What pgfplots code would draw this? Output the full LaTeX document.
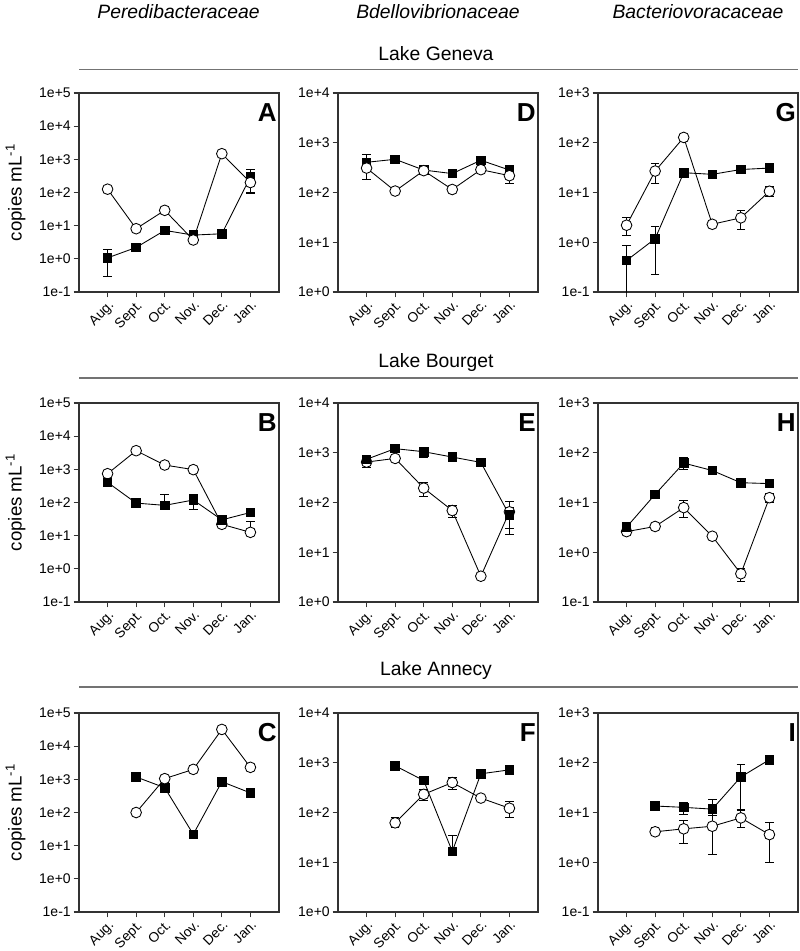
\documentclass[border=0pt]{standalone}
\usepackage{fontspec}
\setmainfont{Liberation Sans}
\usepackage{pgfplots}
\pgfplotsset{compat=1.18}
\pgfplotsset{
  mypanelstyle/.style={
    scale only axis, width=150pt, height=149.25pt,
    xmin=-1, xmax=6, xtick={0,...,5},
    xticklabels={Aug.,Sept.,Oct.,Nov.,Dec.,Jan.},
    x tick label style={rotate=45, anchor=north east, inner sep=1pt, font=\fontsize{10.3}{11}\selectfont},
    y tick label style={font=\fontsize{10.5}{11}\selectfont, inner sep=2pt},
    tick align=outside, xtick pos=bottom, ytick pos=left,
    major tick length=4pt, yminorticks=false,
    axis line style={black!80, line width=0.9pt},
    major tick style={black!80, line width=0.8pt},
  },
  myrangeA/.style={ymin=0.1, ymax=1e5, ytick={0.1,1,10,100,1000,10000,100000},
    yticklabels={1e-1,1e+0,1e+1,1e+2,1e+3,1e+4,1e+5}},
  myrangeD/.style={ymin=1, ymax=1e4, ytick={1,10,100,1000,10000},
    yticklabels={1e+0,1e+1,1e+2,1e+3,1e+4}},
  myrangeG/.style={ymin=0.1, ymax=1e3, ytick={0.1,1,10,100,1000},
    yticklabels={1e-1,1e+0,1e+1,1e+2,1e+3}},
  myylab/.style={ylabel={copies mL\textsuperscript{-1}},
    ylabel style={font=\fontsize{14}{15}\selectfont, at={([xshift=-47.5pt]rel axis cs:0,0.5)}, anchor=center}},
  mysq/.style={black, line width=0.65pt, mark=square*, mark size=3.2pt,
    mark options={fill=black, solid},
    error bars/y dir=both, error bars/y explicit,
    error bars/error bar style={line width=0.65pt, black},
    error bars/error mark options={rotate=90, mark size=3.2pt, line width=0.65pt}},
  myci/.style={black, line width=0.65pt, mark=*, mark size=4pt,
    mark options={fill=white, solid},
    error bars/y dir=both, error bars/y explicit,
    error bars/error bar style={line width=0.65pt, black},
    error bars/error mark options={rotate=90, mark size=3.2pt, line width=0.65pt}},
}
\newcommand{\plet}[1]{\node[anchor=north east, inner sep=0pt, font=\bfseries\fontsize{19.5}{20}\selectfont] at (rel axis cs:0.99,0.95) {#1};}
\begin{document}
\begin{tikzpicture}
\useasboundingbox (0,0) rectangle (600pt,-713.25pt);
% column titles
\node[font=\itshape\fontsize{14.5}{16}\selectfont] at (133.9pt,-8.5pt) {Peredibacteraceae};
\node[font=\itshape\fontsize{14.5}{16}\selectfont] at (328.5pt,-8.5pt) {Bdellovibrionaceae};
\node[font=\itshape\fontsize{14.5}{16}\selectfont] at (523.5pt,-8.5pt) {Bacteriovoracaceae};
% row titles
\node[font=\fontsize{14.5}{16}\selectfont] at (327pt,-40.5pt) {Lake Geneva};
\draw[black!55, line width=0.8pt] (59.25pt,-52pt) -- (598.5pt,-52pt);
\node[font=\fontsize{14.5}{16}\selectfont] at (327pt,-271.5pt) {Lake Bourget};
\draw[black!55, line width=0.8pt] (59.25pt,-283.5pt) -- (598.5pt,-283.5pt);
\node[font=\fontsize{14.5}{16}\selectfont] at (327pt,-502.5pt) {Lake Annecy};
\draw[black!55, line width=0.8pt] (59.25pt,-515.25pt) -- (598.5pt,-515.25pt);

% ---------- A
\begin{semilogyaxis}[mypanelstyle, myrangeA, myylab, at={(59.25pt,-69.75pt)}, anchor=north west]
\addplot[mysq] coordinates {(0,1.07) += (0,0.85) -= (0,0.77) (1,2.2) +- (0,0.3) (2,7.2) +- (0,1) (3,5.2) +- (0,0.8) (4,5.7) +- (0,0.8) (5,295) += (0,215) -= (0,195)};
\addplot[myci] coordinates {(0,126) +- (0,25) (1,8.1) +- (0,0) (2,29) +- (0,5) (3,3.7) +- (0,0) (4,1480) +- (0,150) (5,200) += (0,0) -= (0,107)};
\plet{A}
\end{semilogyaxis}
% ---------- D
\begin{semilogyaxis}[mypanelstyle, myrangeD, at={(253.5pt,-69.75pt)}, anchor=north west]
\addplot[mysq] coordinates {(0,405) += (0,170) -= (0,100) (1,465) +- (0,60) (2,283) +- (0,30) (3,240) +- (0,25) (4,445) +- (0,90) (5,283) +- (0,50)};
\addplot[myci] coordinates {(0,310) += (0,0) -= (0,123) (1,107) +- (0,0) (2,275) +- (0,0) (3,115) +- (0,0) (4,288) +- (0,40) (5,218) += (0,0) -= (0,63)};
\plet{D}
\end{semilogyaxis}
% ---------- G
\begin{semilogyaxis}[mypanelstyle, myrangeG, at={(448.5pt,-69.75pt)}, anchor=north west]
\addplot[mysq] coordinates {(0,0.43) += (0,0.42) -= (0,0.42) (1,1.18) += (0,0.92) -= (0,0.95) (2,25) +- (0,0) (3,23.2) +- (0,2) (4,29) +- (0,2) (5,31) +- (0,3)};
\addplot[myci] coordinates {(0,2.2) += (0,0.9) -= (0,0.82) (1,27) += (0,11) -= (0,12) (2,128) +- (0,15) (3,2.3) +- (0,0) (4,3.1) +- (0,1.3) (5,10.6) += (0,2.4) -= (0,2.2)};
\plet{G}
\end{semilogyaxis}

% ---------- B
\begin{semilogyaxis}[mypanelstyle, myrangeA, myylab, at={(59.25pt,-302.25pt)}, anchor=north west]
\addplot[myci] coordinates {(0,740) +- (0,0) (1,3650) +- (0,0) (2,1350) +- (0,0) (3,980) +- (0,0) (4,22) +- (0,3) (5,12.6) += (0,13.4) -= (0,0)};
\addplot[mysq] coordinates {(0,405) +- (0,60) (1,96) +- (0,10) (2,82) += (0,90) -= (0,10) (3,119) += (0,53) -= (0,56) (4,30) +- (0,8) (5,50) +- (0,5)};
\plet{B}
\end{semilogyaxis}
% ---------- E
\begin{semilogyaxis}[mypanelstyle, myrangeD, at={(253.5pt,-302.25pt)}, anchor=north west]
\addplot[myci] coordinates {(0,650) += (0,0) -= (0,150) (1,770) +- (0,80) (2,195) += (0,55) -= (0,64) (3,69) += (0,18) -= (0,19) (4,3.3) +- (0,0.3) (5,65) += (0,15) -= (0,35)};
\addplot[mysq] coordinates {(0,740) +- (0,100) (1,1210) +- (0,150) (2,1050) +- (0,250) (3,820) +- (0,80) (4,640) +- (0,60) (5,56) += (0,51) -= (0,33)};
\plet{E}
\end{semilogyaxis}
% ---------- H
\begin{semilogyaxis}[mypanelstyle, myrangeG, at={(448.5pt,-302.25pt)}, anchor=north west]
\addplot[myci] coordinates {(0,2.6) +- (0,0.3) (1,3.3) +- (0,0.3) (2,7.9) += (0,3.1) -= (0,3.0) (3,2.1) +- (0,0.3) (4,0.37) += (0,0.10) -= (0,0.11) (5,12.5) += (0,2.5) -= (0,2.3)};
\addplot[mysq] coordinates {(0,3.2) +- (0,0.4) (1,14.6) +- (0,1) (2,62) += (0,18) -= (0,16) (3,44) +- (0,3) (4,25) +- (0,2) (5,24) +- (0,2)};
\plet{H}
\end{semilogyaxis}

% ---------- C
\begin{semilogyaxis}[mypanelstyle, myrangeA, myylab, at={(59.25pt,-534.75pt)}, anchor=north west]
\addplot[mysq] coordinates {(1,1180) +- (0,80) (2,560) +- (0,80) (3,22) +- (0,4) (4,850) +- (0,100) (5,390) +- (0,40)};
\addplot[myci] coordinates {(1,100) +- (0,0) (2,1050) +- (0,0) (3,2000) +- (0,0) (4,32000) +- (0,0) (5,2300) +- (0,0)};
\plet{C}
\end{semilogyaxis}
% ---------- F
\begin{semilogyaxis}[mypanelstyle, myrangeD, at={(253.5pt,-534.75pt)}, anchor=north west]
\addplot[mysq] coordinates {(1,870) +- (0,60) (2,440) +- (0,40) (3,16.5) += (0,17.5) -= (0,0) (4,600) += (0,100) -= (0,50) (5,720) +- (0,50)};
\addplot[myci] coordinates {(1,62) += (0,17) -= (0,12) (2,232) += (0,58) -= (0,57) (3,400) += (0,100) -= (0,105) (4,195) +- (0,0) (5,122) += (0,43) -= (0,41)};
\plet{F}
\end{semilogyaxis}
% ---------- I
\begin{semilogyaxis}[mypanelstyle, myrangeG, at={(448.5pt,-534.75pt)}, anchor=north west]
\addplot[mysq] coordinates {(1,13.5) +- (0,1) (2,12.7) += (0,3.3) -= (0,3.7) (3,11.7) += (0,6.3) -= (0,3.0) (4,52) += (0,39) -= (0,40.8) (5,115) +- (0,8)};
\addplot[myci] coordinates {(1,4.1) += (0,0.9) -= (0,0.7) (2,4.7) += (0,2.2) -= (0,2.3) (3,5.3) += (0,3.5) -= (0,3.83) (4,7.8) += (0,3.6) -= (0,2.7) (5,3.6) +- (0,2.6)};
\plet{I}
\end{semilogyaxis}
\end{tikzpicture}
\end{document}
